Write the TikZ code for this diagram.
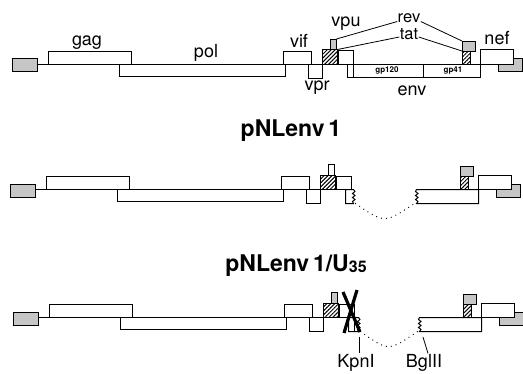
\documentclass[tikz,border=0pt]{standalone}
\usepackage{fontspec}
\setmainfont{TeX Gyre Heros}
\usetikzlibrary{patterns.meta}

\begin{document}
\begin{tikzpicture}[
    x=1pt, y=-1pt,
    gene/.style={draw, line width=1pt, fill=white},
    ltr/.style={draw, line width=1pt, fill=gray!45},
    hatched/.style={draw, line width=1pt, preaction={fill=white},
        pattern={Lines[angle=45, distance=2.8pt, line width=1pt]}},
    lbl/.style={font=\fontsize{18}{18}\selectfont, inner sep=0.3pt, anchor=base},
    small lbl/.style={lbl, font=\fontsize{16.5}{16.5}\selectfont},
    sublbl/.style={font=\fontsize{8}{8}\selectfont\bfseries, inner sep=0pt},
    ttl/.style={font=\fontsize{23}{23}\selectfont\bfseries, inner sep=0pt, anchor=base},
    lead/.style={line width=0.8pt},
    gap/.style={line width=1.3pt, dash pattern=on 0pt off 5pt, line cap=round},
    cross/.style={line width=3.2pt}
]
\useasboundingbox (0,0) rectangle (523,373);

% genes shared by the three proviruses
\foreach \dx/\base/\revfill in {0/64/gray!45, -1.5/189.5/white, 1.5/317.5/gray!45}{
  \begin{scope}[shift={(\dx,\base)}]
    \draw[ltr] (12,-5.5) rectangle (37,7.5);
    \draw[line width=1pt] (37,0) -- (48,0);
    \draw[gene] (48,-13) rectangle (131,0);
    \draw[gene] (119,0) rectangle (285,12);
    \draw[gene] (283,-13) rectangle (311,0);
    \draw[gene] (308,0) rectangle (322,14);
    \draw[hatched] (322,-14.5) rectangle (337,0);
    \draw[gene, fill=\revfill] (330,-25) rectangle (336,-14.5);
    \draw[gene] (338,-13.5) rectangle (353,0);
    \draw[ltr] (498,-5.5) rectangle (522,7.5);
    \draw[gene] (480,-14.5) rectangle (513,0);
    \draw[hatched] (462,-13) rectangle (470,0);
    \draw[ltr] (462,-23) rectangle (475,-13);
  \end{scope}
}

% wild type env
\begin{scope}[shift={(0,64)}]
  \draw[gene] (347,0) rectangle (480,13.5);
  \draw[line width=1pt] (353,0) -- (353,13.5) (423,0) -- (423,13.5);
  \node[sublbl] (gp120) at (387,6.75) {gp120};
  \node[sublbl] (gp41) at (453,6.75) {gp41};
  \coordinate (rev1tip) at (336.5,-25);
  \coordinate (tat1tip) at (337.5,-14.5);
  \coordinate (rev2tip) at (462,-23);
  \coordinate (tat2tip) at (462,-13);
\end{scope}

\node[lbl] (gag) at (87,45) {gag};
\node[lbl] (pol) at (206,57) {pol};
\node[lbl] (vif) at (299,47) {vif};
\node[lbl] (vpr) at (317,90) {vpr};
\node[lbl] (vpu) at (346,26) {vpu};
\node[small lbl] (rev) at (409,22.5) {rev};
\node[small lbl] (tat) at (409,39) {tat};
\node[lbl] (nef) at (497,44.5) {nef};
\node[lbl] (env) at (412,95) {env};

\draw[lead] (rev1tip) -- ([yshift=1pt]rev.base west);
\draw[lead] ([yshift=1pt]rev.base east) -- (rev2tip);
\draw[lead] (tat1tip) -- ([yshift=2pt]tat.base west);
\draw[lead] ([yshift=2pt]tat.base east) -- (tat2tip);

% pNLenv1
\node[ttl] (pnl1) at (291,136) {pNLenv\,1};
\begin{scope}[shift={(-1.5,189.5)}]
  \draw[gene] (347,0) -- (355,0) -- (356.5,2) -- (354,4) -- (356.5,6) -- (354,8)
    -- (356.5,10) -- (354,12) -- (355,14) -- (347,14) -- cycle;
  \draw[gene] (418,0) -- (480,0) -- (480,14) -- (418,14) -- (419.5,12) -- (417,10)
    -- (419.5,8) -- (417,6) -- (419.5,4) -- (417,2) -- cycle;
  \coordinate (cut2a) at (357,14);
  \coordinate (cut2b) at (416,14);
  \draw[gap] (cut2a) .. controls (386,34) .. (cut2b);
\end{scope}

% pNLenv1/U35
\node[ttl] (pnlu) at (296,271) {pNLenv\,1/U\raisebox{-1pt}{\fontsize{16}{16}\selectfont 35}};
\begin{scope}[shift={(1.5,317.5)}]
  \draw[gene] (347,0) -- (357,0) -- (358.5,2) -- (356,4) -- (358.5,6) -- (356,8)
    -- (358.5,10) -- (356,12) -- (357,14) -- (347,14) -- cycle;
  \draw[line width=1pt] (353,0) -- (353,14);
  \draw[gene] (418,0) -- (480,0) -- (480,14) -- (418,14) -- (419.5,12) -- (417,10)
    -- (419.5,8) -- (417,6) -- (419.5,4) -- (417,2) -- cycle;
  \coordinate (cut3a) at (359,14);
  \coordinate (cut3b) at (416,14);
  \draw[gap] (cut3a) .. controls (387,34) .. (cut3b);
  \draw[cross] (341.5,-25.5) -- (358.5,14.5);
  \draw[cross] (355.5,-27.5) -- (342.5,15.5);
  \coordinate (kpnsite) at (357.5,19.5);
  \coordinate (bglsite) at (421.5,19.5);
\end{scope}

\node[lbl] (kpn) at (356,367) {KpnI};
\node[lbl] (bgl) at (424,367) {BglII};
\draw[lead] (kpnsite) -- (kpnsite |- kpn.north);
\draw[lead] (bglsite) -- ([xshift=4pt]bgl.north);
\end{tikzpicture}
\end{document}
